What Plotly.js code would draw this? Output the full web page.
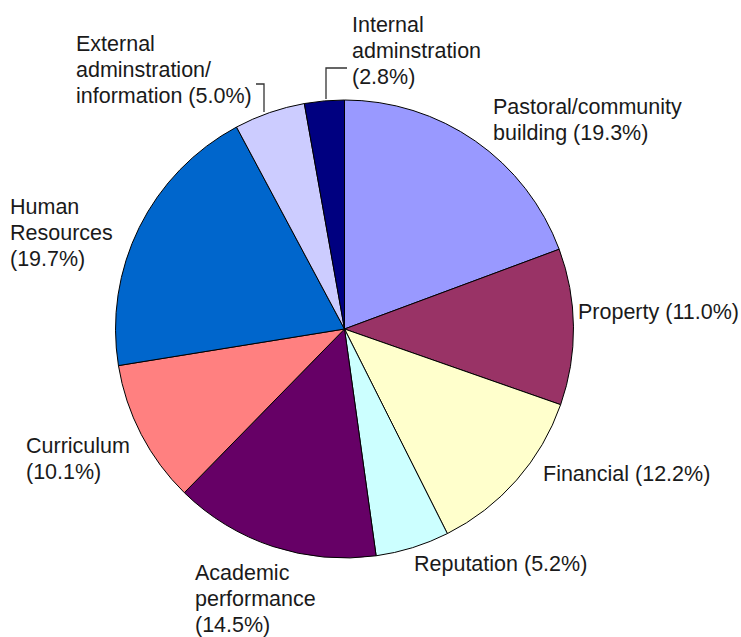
<!DOCTYPE html>
<html>
<head>
<meta charset="utf-8">
<script src="https://cdn.plot.ly/plotly-3.0.1.min.js"></script>
<style>html,body{margin:0;padding:0;background:#fff;}#chart{width:741px;height:637px;}</style>
</head>
<body>
<div id="chart"></div>
<script>
// Data (clockwise from 12 o'clock)
const categories = ["Pastoral/community building", "Property", "Financial", "Reputation",
  "Academic performance", "Curriculum", "Human Resources",
  "External adminstration/ information", "Internal adminstration"];
const values = [19.3, 11.0, 12.2, 5.2, 14.5, 10.1, 19.7, 5.0, 2.8];
const colors = ["#9999FF", "#993366", "#FFFFCC", "#CCFFFF", "#660066", "#FF8080", "#0066CC", "#CCCCFF", "#000080"];
// Label text as broken onto lines in the reference
const labelLines = [
  ["Pastoral/community", "building"],
  ["Property"],
  ["Financial"],
  ["Reputation"],
  ["Academic", "performance"],
  ["Curriculum"],
  ["Human", "Resources"],
  ["External", "adminstration/", "information"],
  ["Internal", "adminstration"]
];
// whether the percentage goes on its own line
const pctOwnLine = [false, false, false, false, true, true, true, false, true];

const W = 741, H = 637;
const cx = 344.5, cy = 329, R = 229;
const px = x => x / W;
const py = y => 1 - y / H;

// Label anchor positions (left edge x, centre y of first line) in pixels
const labelPos = [
  [492, 107], [577, 312], [542, 474], [413, 564], [194, 573],
  [25, 446], [9, 207], [75, 44], [351, 25]
];
const lineGap = 26;

const annotations = [];
categories.forEach((c, i) => {
  const pct = "(" + values[i].toFixed(1) + "%)";
  let lines = labelLines[i].slice();
  if (pctOwnLine[i]) lines.push(pct); else lines[lines.length - 1] += " " + pct;
  lines.forEach((ln, k) => {
    annotations.push({
      text: ln,
      x: px(labelPos[i][0]), y: py(labelPos[i][1] + k * lineGap),
      xref: "paper", yref: "paper",
      xanchor: "left", yanchor: "middle", align: "left",
      showarrow: false, borderpad: 0,
      font: {family: "Liberation Sans, Arial, sans-serif", size: 21.5, color: "#1a1a1a"}
    });
  });
});

// Leader lines for the two small slices
const lineStyle = {color: "#333", width: 1.3};
const shapes = [
  // Internal adminstration
  {type: "path", xref: "paper", yref: "paper",
   path: `M ${px(326)} ${py(99)} L ${px(326)} ${py(68)} L ${px(347)} ${py(68)}`, line: lineStyle},
  // External adminstration/information
  {type: "path", xref: "paper", yref: "paper",
   path: `M ${px(264)} ${py(112)} L ${px(264)} ${py(84)} L ${px(256)} ${py(84)}`, line: lineStyle}
];

const trace = {
  type: "pie",
  labels: categories,
  values: values,
  sort: false,
  direction: "clockwise",
  rotation: 0,
  textinfo: "none",
  hoverinfo: "label+percent",
  marker: {colors: colors, line: {color: "#000", width: 1}},
  domain: {x: [px(cx - R), px(cx + R)], y: [py(cy + R), py(cy - R)]},
  showlegend: false
};

Plotly.newPlot("chart", [trace], {
  width: W, height: H,
  margin: {l: 0, r: 0, t: 0, b: 0},
  paper_bgcolor: "#fff",
  showlegend: false,
  annotations: annotations,
  shapes: shapes
}, {displayModeBar: false, staticPlot: true});
</script>
</body>
</html>
